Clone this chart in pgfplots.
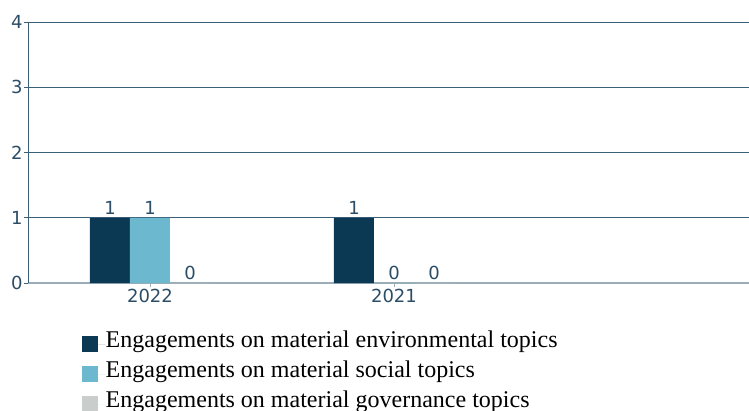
\documentclass[border=0pt]{standalone}
\usepackage{pgfplots}
\pgfplotsset{compat=1.18}
\usepackage{fontspec}
\setmainfont{Liberation Serif}
\newfontfamily\tickfont{DejaVu Sans}
\definecolor{dkbar}{HTML}{0B3954}
\definecolor{ltbar}{HTML}{6CB9CF}
\definecolor{gybar}{HTML}{C9CDCC}
\definecolor{txt}{HTML}{2B4D66}
\definecolor{gridc}{HTML}{3A6078}
\definecolor{basec}{HTML}{9BADB8}
\begin{document}
\begin{tikzpicture}[x=1pt,y=1pt]
\begin{axis}[
  at={(28pt,127pt)}, anchor=south west,
  scale only axis, width=721pt, height=261pt,
  xmin=-0.5, xmax=2.455, ymin=0, ymax=4,
  ybar=0pt, bar width=40pt,
  xtick={0,1}, xticklabels={2022,2021},
  ytick={0,1,2,3,4},
  ymajorgrids, xmajorgrids=false,
  y grid style={gridc, line width=0.9pt},
  axis x line*=bottom, axis y line*=left,
  axis line style={gridc, line width=0.9pt},
  x axis line style={basec, line width=1.5pt, -},
  y axis line style={-},
  major tick length=4pt,
  xtick style={basec, line width=0.8pt},
  ytick style={gridc, line width=0.8pt},
  tick align=outside,
  ticklabel style={font=\tickfont\fontsize{18}{20}\selectfont, text=txt},
  yticklabel style={xshift=2pt},
  xticklabel style={yshift=1pt},
  /pgf/number format/assume math mode=true,
  nodes near coords,
  nodes near coords style={font=\tickfont\fontsize{18}{20}\selectfont, text=txt},
  every node near coord/.append style={yshift=0pt},
  legend style={at={(54pt,-46pt)}, anchor=north west, draw=none, fill=none,
    font=\fontsize{24}{30}\selectfont, row sep=0pt, inner sep=0pt,
    legend cell align=left,
    nodes={inner sep=0pt, text height=18pt, text depth=12pt}},
  legend image code/.code={\fill[#1] (0pt,-7.5pt) rectangle (15.5pt,8pt);
    \path (0pt,0pt) -- (23.5pt,0pt);},
]
\addplot[fill=dkbar, draw=none] coordinates {(0,1) (1,1)};
\addplot[fill=ltbar, draw=none] coordinates {(0,1) (1,0)};
\addplot[fill=gybar, draw=none] coordinates {(0,0) (1,0)};
\legend{Engagements on material environmental topics,Engagements on material social topics,Engagements on material governance topics}
\end{axis}
\pgfresetboundingbox
\useasboundingbox (0,0) rectangle (749pt,410pt);
\end{tikzpicture}
\end{document}
